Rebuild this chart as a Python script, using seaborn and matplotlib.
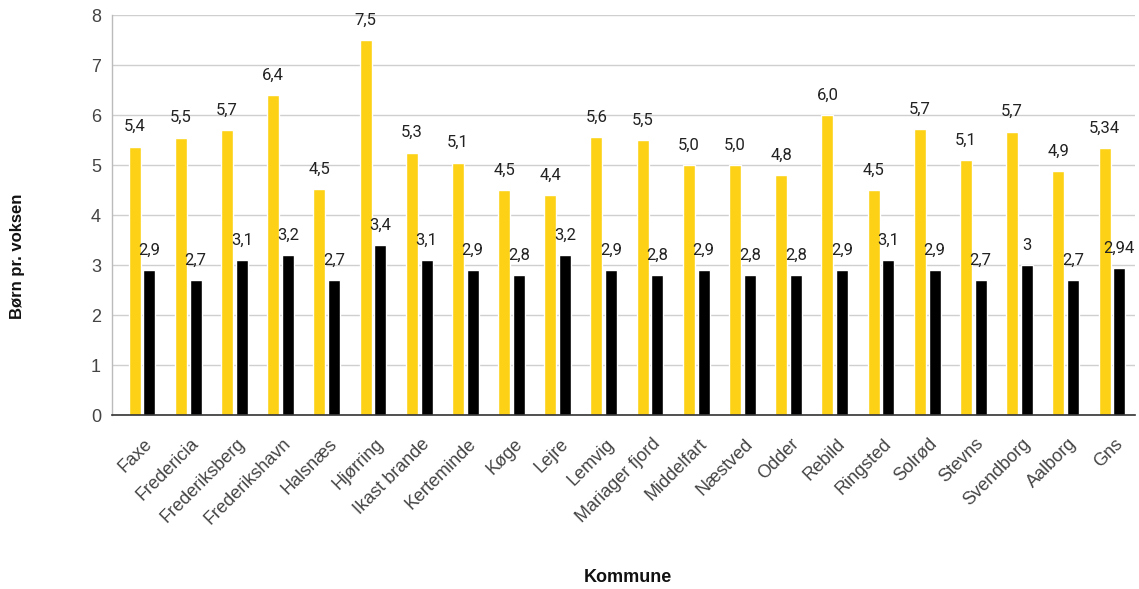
import matplotlib
matplotlib.use("Agg")
import matplotlib.pyplot as plt
import matplotlib.transforms as mtransforms
import seaborn as sns
import pandas as pd

kommuner = ["Faxe", "Fredericia", "Frederiksberg", "Frederikshavn", "Halsnæs", "Hjørring",
            "Ikast brande", "Kerteminde", "Køge", "Lejre", "Lemvig", "Mariager fjord",
            "Middelfart", "Næstved", "Odder", "Rebild", "Ringsted", "Solrød", "Stevns",
            "Svendborg", "Aalborg", "Gns"]
serie_gul = [5.37, 5.55, 5.7, 6.4, 4.52, 7.5, 5.25, 5.05, 4.5, 4.4, 5.56, 5.5,
             5.0, 5.0, 4.8, 6.0, 4.5, 5.72, 5.1, 5.67, 4.88, 5.34]
serie_sort = [2.9, 2.7, 3.1, 3.2, 2.7, 3.4, 3.1, 2.9, 2.8, 3.2, 2.9, 2.8,
              2.9, 2.8, 2.8, 2.9, 3.1, 2.9, 2.7, 3.0, 2.7, 2.94]
labels_gul = ["5,4", "5,5", "5,7", "6,4", "4,5", "7,5", "5,3", "5,1", "4,5", "4,4", "5,6", "5,5",
              "5,0", "5,0", "4,8", "6,0", "4,5", "5,7", "5,1", "5,7", "4,9", "5,34"]
labels_sort = ["2,9", "2,7", "3,1", "3,2", "2,7", "3,4", "3,1", "2,9", "2,8", "3,2", "2,9", "2,8",
               "2,9", "2,8", "2,8", "2,9", "3,1", "2,9", "2,7", "3", "2,7", "2,94"]
serier = ["A", "B"]
y_ticks = [0, 1, 2, 3, 4, 5, 6, 7, 8]

df = pd.DataFrame({
    "Kommune": kommuner * 2,
    "serie": [serier[0]] * len(kommuner) + [serier[1]] * len(kommuner),
    "value": serie_gul + serie_sort,
})

sns.set_theme(style="white")
plt.rcParams["font.family"] = ["Roboto", "DejaVu Sans"]
LIB = ["Liberation Sans", "DejaVu Sans"]

fig = plt.figure(figsize=(11.39, 5.89), dpi=100)
ax = fig.add_axes([112 / 1139, 1 - 415 / 589, (1135 - 112) / 1139, 400 / 589])

sns.barplot(data=df, x="Kommune", y="value", hue="serie", order=kommuner, hue_order=serier,
            palette=["#FCD116", "#000000"], width=0.64, gap=0.19, saturation=1,
            legend=False, ax=ax, errorbar=None)

for cont, labs in zip(ax.containers, [labels_gul, labels_sort]):
    ax.bar_label(cont, labels=labs, padding=9, fontsize=12, color="#222222")

ax.set_ylim(0, 8)
ax.set_xlim(-0.65, len(kommuner) - 0.5)
ax.set_yticks(y_ticks)
ax.set_yticklabels([str(t) for t in y_ticks], fontsize=13, color="#444444", family=LIB)
ax.tick_params(axis="y", length=0, pad=8)
ax.tick_params(axis="x", length=0, pad=19)
ax.grid(axis="y", color="#cfcfcf", linewidth=1)
ax.set_axisbelow(True)
for s in ["top", "right"]:
    ax.spines[s].set_visible(False)
ax.spines["left"].set_color("#bbbbbb")
ax.spines["left"].set_linewidth(1)
ax.spines["bottom"].set_color("#333333")
ax.spines["bottom"].set_linewidth(1.2)

offset = mtransforms.ScaledTranslation(0.08, 0, fig.dpi_scale_trans)
for lab in ax.get_xticklabels():
    lab.set_rotation(45)
    lab.set_ha("right")
    lab.set_va("center")
    lab.set_rotation_mode("anchor")
    lab.set_fontsize(13)
    lab.set_color("#444444")
    lab.set_family(LIB)
    lab.set_transform(lab.get_transform() + offset)

ax.set_xlabel("Kommune", fontsize=13, fontweight="bold", color="#111111", family=LIB)
ax.xaxis.set_label_coords(0.504, -0.385)
ax.set_ylabel("Børn pr. voksen", fontsize=12, fontweight="bold", color="#111111", family=LIB)
ax.yaxis.set_label_coords(-0.085, 0.3975)

fig.savefig("out.png", dpi=100)
